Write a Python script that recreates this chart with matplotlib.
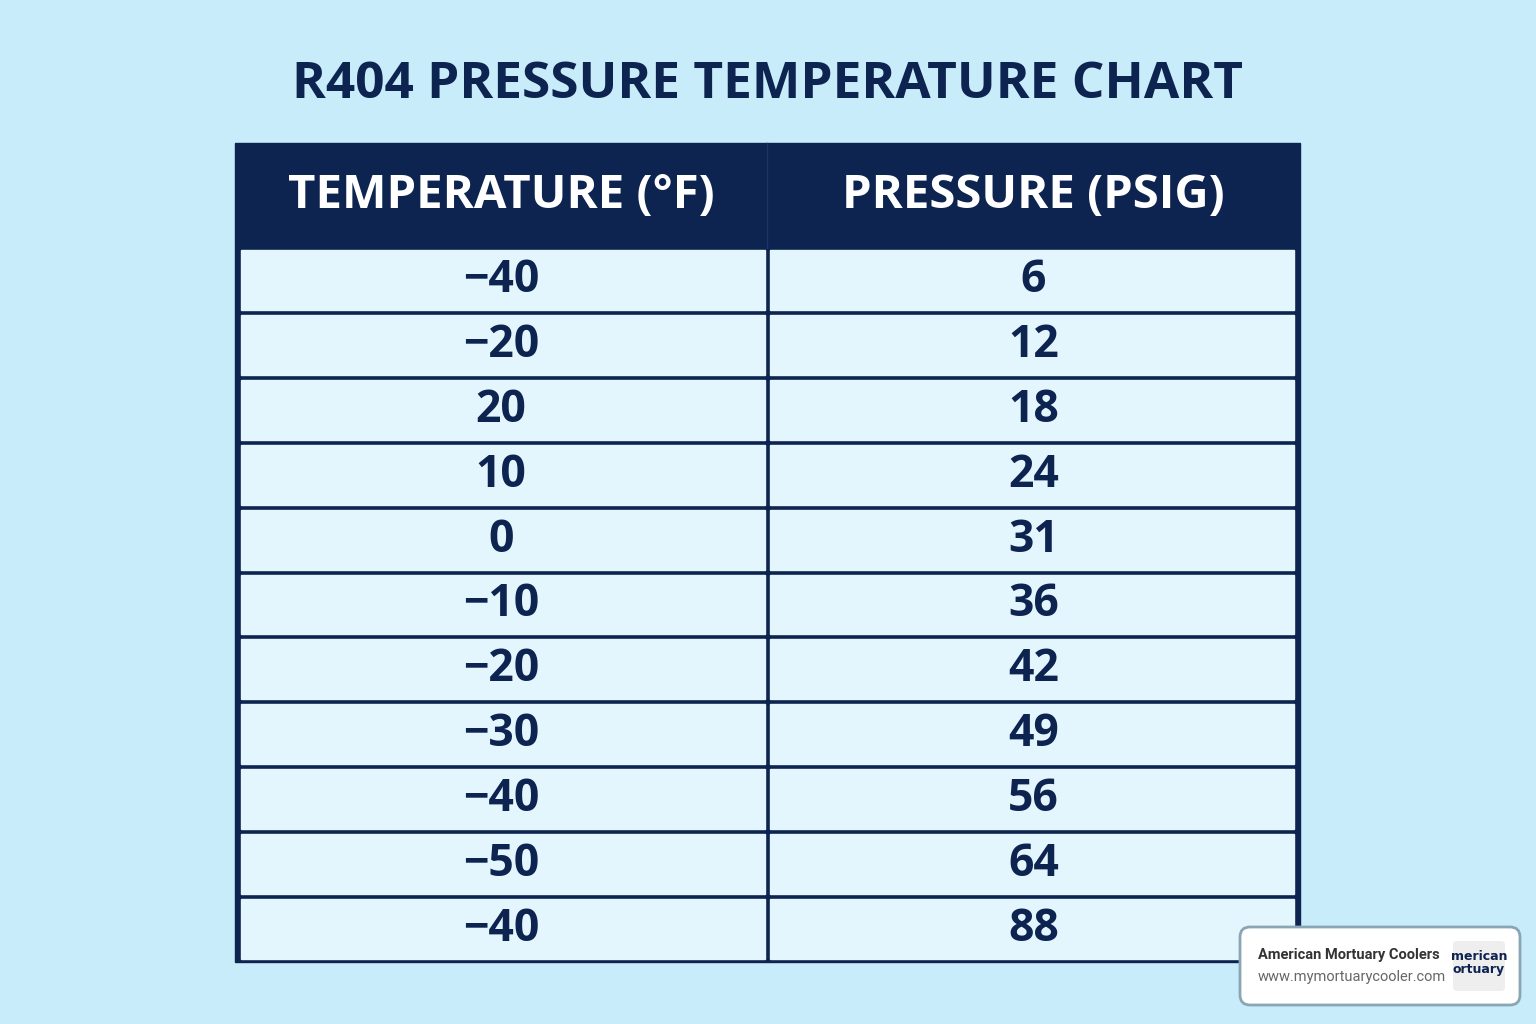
import matplotlib
matplotlib.use("Agg")
import matplotlib.pyplot as plt
from matplotlib.patches import Rectangle, FancyBboxPatch

title = "R404 PRESSURE TEMPERATURE CHART"
headers = ["TEMPERATURE (°F)", "PRESSURE (PSIG)"]
temps = ["−40", "−20", "20", "10", "0", "−10", "−20", "−30", "−40", "−50", "−40"]
pressures = ["6", "12", "18", "24", "31", "36", "42", "49", "56", "64", "88"]

W, H = 1536, 1024
navy = "#0d2350"
bg = "#c9ecfb"
cell = "#e4f6fd"

fig = plt.figure(figsize=(W/100, H/100), dpi=100, facecolor=bg)
ax = fig.add_axes([0, 0, 1, 1])
ax.set_xlim(0, W); ax.set_ylim(H, 0); ax.axis("off")

ax.text(W/2 - 1, 85, title, ha="center", va="center", fontsize=37, fontweight="bold",
        color=navy, family="Open Sans")

x0, x1, xm = 235, 1300, 767
hy0, hy1 = 143, 248
ax.add_patch(Rectangle((x0, hy0), x1-x0, hy1-hy0, color=navy))
ax.plot([xm, xm], [hy0, hy1], color="#1c3366", lw=1)
for xc, h in zip([(x0+xm)/2, (xm+x1)/2], headers):
    ax.text(xc, 196, h, ha="center", va="center", fontsize=34, fontweight="bold",
            color="white", family="Open Sans")

n = len(temps)
rh = (962 - hy1) / n
ax.add_patch(Rectangle((x0, hy1), x1-x0, 962-hy1, color=navy))
for i, (t, p) in enumerate(zip(temps, pressures)):
    y = hy1 + i*rh
    ax.add_patch(Rectangle((x0+6, y+2), xm-x0-8, rh-5, color=cell))
    ax.add_patch(Rectangle((xm+3, y+2), x1-xm-9, rh-5, color=cell))
    ax.text((x0+xm)/2, y+rh/2, t, ha="center", va="center", fontsize=32,
            fontweight="bold", color=navy, family="Open Sans")
    ax.text((xm+x1)/2, y+rh/2, p, ha="center", va="center", fontsize=32,
            fontweight="bold", color=navy, family="Open Sans")

ax.add_patch(FancyBboxPatch((1240, 927), 280, 78, boxstyle="round,pad=0,rounding_size=10",
                            fc="white", ec="#8aa6b4", lw=2))
ax.text(1258, 955, "American Mortuary Coolers", fontsize=10.5, fontweight="bold",
        color="#333333", va="center", family="Roboto")
ax.text(1258, 977, "www.mymortuarycooler.com", fontsize=10.5, color="#666666",
        va="center", family="Roboto")
ax.add_patch(FancyBboxPatch((1453, 941), 52, 50, boxstyle="round,pad=0,rounding_size=4",
                            fc="#eeeeee", ec="none"))
ax.text(1479, 957, "merican", fontsize=9, fontweight="bold", color=navy, ha="center", va="center")
ax.text(1479, 970, "ortuary", fontsize=9, fontweight="bold", color=navy, ha="center", va="center")

fig.savefig("out.png", dpi=100, facecolor=bg)
